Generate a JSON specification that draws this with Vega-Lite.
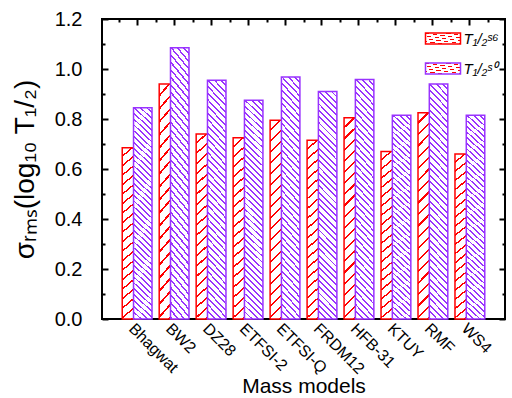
{
  "$schema": "https://vega.github.io/schema/vega-lite/v6.json",
  "width": 403,
  "height": 300,
  "autosize": {"type": "none"},
  "padding": {"left": 102, "top": 19, "right": 7, "bottom": 79},
  "background": "white",
  "config": {
    "view": {"stroke": "#000", "strokeWidth": 2},
    "axis": {"domain": false, "grid": false, "tickColor": "#000", "tickWidth": 2, "labelFont": "Liberation Sans", "titleFont": "Liberation Sans", "labelColor": "#000", "titleColor": "#000", "titleFontWeight": "normal", "labelOverlap": false, "labelLimit": 200}
  },
  "data": {"values": [
    {"model": "Bhagwat", "series": "S6", "value": 0.685},
    {"model": "Bhagwat", "series": "S0", "value": 0.845},
    {"model": "BW2", "series": "S6", "value": 0.94},
    {"model": "BW2", "series": "S0", "value": 1.085},
    {"model": "DZ28", "series": "S6", "value": 0.74},
    {"model": "DZ28", "series": "S0", "value": 0.955},
    {"model": "ETFSI-2", "series": "S6", "value": 0.725},
    {"model": "ETFSI-2", "series": "S0", "value": 0.875},
    {"model": "ETFSI-Q", "series": "S6", "value": 0.795},
    {"model": "ETFSI-Q", "series": "S0", "value": 0.968},
    {"model": "FRDM12", "series": "S6", "value": 0.715},
    {"model": "FRDM12", "series": "S0", "value": 0.91},
    {"model": "HFB-31", "series": "S6", "value": 0.805},
    {"model": "HFB-31", "series": "S0", "value": 0.958},
    {"model": "KTUY", "series": "S6", "value": 0.67},
    {"model": "KTUY", "series": "S0", "value": 0.815},
    {"model": "RMF", "series": "S6", "value": 0.825},
    {"model": "RMF", "series": "S0", "value": 0.94},
    {"model": "WS4", "series": "S6", "value": 0.66},
    {"model": "WS4", "series": "S0", "value": 0.815}
  ]},
  "layer": [
    {
      "transform": [{"filter": "datum.series === 'S6'"}],
      "mark": {"type": "bar", "width": {"band": 0.5}, "xOffset": -5.65, "strokeWidth": 1.5,
        "fill": {"gradient": "linear", "x1": 0, "y1": 0, "x2": 0.1, "y2": 1.1, "stops": [
          {"offset":0,"color":"#fff"},{"offset":0.04,"color":"#fff"},{"offset":0.04,"color":"#f00"},{"offset":0.05,"color":"#f00"},
          {"offset":0.05,"color":"#fff"},{"offset":0.09,"color":"#fff"},{"offset":0.09,"color":"#f00"},{"offset":0.1,"color":"#f00"},
          {"offset":0.1,"color":"#fff"},{"offset":0.14,"color":"#fff"},{"offset":0.14,"color":"#f00"},{"offset":0.15,"color":"#f00"},
          {"offset":0.15,"color":"#fff"},{"offset":0.19,"color":"#fff"},{"offset":0.19,"color":"#f00"},{"offset":0.2,"color":"#f00"},
          {"offset":0.2,"color":"#fff"},{"offset":0.24,"color":"#fff"},{"offset":0.24,"color":"#f00"},{"offset":0.25,"color":"#f00"},
          {"offset":0.25,"color":"#fff"},{"offset":0.29,"color":"#fff"},{"offset":0.29,"color":"#f00"},{"offset":0.3,"color":"#f00"},
          {"offset":0.3,"color":"#fff"},{"offset":0.34,"color":"#fff"},{"offset":0.34,"color":"#f00"},{"offset":0.35,"color":"#f00"},
          {"offset":0.35,"color":"#fff"},{"offset":0.39,"color":"#fff"},{"offset":0.39,"color":"#f00"},{"offset":0.4,"color":"#f00"},
          {"offset":0.4,"color":"#fff"},{"offset":0.44,"color":"#fff"},{"offset":0.44,"color":"#f00"},{"offset":0.45,"color":"#f00"},
          {"offset":0.45,"color":"#fff"},{"offset":0.49,"color":"#fff"},{"offset":0.49,"color":"#f00"},{"offset":0.5,"color":"#f00"},
          {"offset":0.5,"color":"#fff"},{"offset":0.54,"color":"#fff"},{"offset":0.54,"color":"#f00"},{"offset":0.55,"color":"#f00"},
          {"offset":0.55,"color":"#fff"},{"offset":0.59,"color":"#fff"},{"offset":0.59,"color":"#f00"},{"offset":0.6,"color":"#f00"},
          {"offset":0.6,"color":"#fff"},{"offset":0.64,"color":"#fff"},{"offset":0.64,"color":"#f00"},{"offset":0.65,"color":"#f00"},
          {"offset":0.65,"color":"#fff"},{"offset":0.69,"color":"#fff"},{"offset":0.69,"color":"#f00"},{"offset":0.7,"color":"#f00"},
          {"offset":0.7,"color":"#fff"},{"offset":0.74,"color":"#fff"},{"offset":0.74,"color":"#f00"},{"offset":0.75,"color":"#f00"},
          {"offset":0.75,"color":"#fff"},{"offset":0.79,"color":"#fff"},{"offset":0.79,"color":"#f00"},{"offset":0.8,"color":"#f00"},
          {"offset":0.8,"color":"#fff"},{"offset":0.84,"color":"#fff"},{"offset":0.84,"color":"#f00"},{"offset":0.85,"color":"#f00"},
          {"offset":0.85,"color":"#fff"},{"offset":0.89,"color":"#fff"},{"offset":0.89,"color":"#f00"},{"offset":0.9,"color":"#f00"},
          {"offset":0.9,"color":"#fff"},{"offset":0.94,"color":"#fff"},{"offset":0.94,"color":"#f00"},{"offset":0.95,"color":"#f00"},
          {"offset":0.95,"color":"#fff"},{"offset":0.99,"color":"#fff"},{"offset":0.99,"color":"#f00"},{"offset":1,"color":"#f00"}
        ]}
      },
      "encoding": {
        "x": {"field": "model", "type": "nominal",
          "sort": ["Bhagwat", "BW2", "DZ28", "ETFSI-2", "ETFSI-Q", "FRDM12", "HFB-31", "KTUY", "RMF", "WS4"],
          "scale": {"paddingInner": 0, "paddingOuter": 0.45},
          "axis": {"orient": "bottom", "title": "Mass models", "titleFontSize": 21, "titlePadding": -1, "labelAngle": 45, "labelFontSize": 16, "labelPadding": 7, "tickSize": -6, "bandPosition": 0.5}},
        "y": {"field": "value", "type": "quantitative", "stack": null,
          "scale": {"domain": [0, 1.2], "nice": false, "zero": true},
          "axis": {"orient": "left", "values": [0, 0.2, 0.4, 0.6, 0.8, 1.0, 1.2], "format": ".1f", "labelFontSize": 20, "tickSize": -6, "labelPadding": 26, "title": "σᵣₘₛ(log₁₀ T₁/₂)", "titleFontSize": 28, "titlePadding": 15}},
        "stroke": {"field": "series", "type": "nominal",
          "scale": {"domain": ["S6", "S0"], "range": ["#ff0000", "#9933ff"]},
          "legend": {"orient": "none", "legendX": 333.5, "legendY": 12, "title": null, "padding": 0,
            "symbolType": "M-3.5,-1.1H3.5V1.1H-3.5Z", "symbolSize": 100, "symbolStrokeWidth": 1.5,
            "labelFont": "Liberation Sans", "labelFontSize": 15, "labelFontStyle": "italic", "labelColor": "#000", "labelOffset": 13, "rowPadding": 13,
            "labelExpr": "datum.value === 'S6' ? 'T₁/₂ˢ⁶' : 'T₁/₂ˢ⁰'",
            "encode": {"symbols": {"update": {"fill": [
              {"test": "datum.value === 'S6'", "value": {"gradient": "linear", "x1": 0, "y1": 0, "x2": 1.19, "y2": 0.374, "stops": [
                {"offset":0,"color":"#fff"},{"offset":0.125,"color":"#fff"},{"offset":0.125,"color":"#f00"},{"offset":0.1667,"color":"#f00"},
                {"offset":0.1667,"color":"#fff"},{"offset":0.2917,"color":"#fff"},{"offset":0.2917,"color":"#f00"},{"offset":0.3333,"color":"#f00"},
                {"offset":0.3333,"color":"#fff"},{"offset":0.4583,"color":"#fff"},{"offset":0.4583,"color":"#f00"},{"offset":0.5,"color":"#f00"},
                {"offset":0.5,"color":"#fff"},{"offset":0.625,"color":"#fff"},{"offset":0.625,"color":"#f00"},{"offset":0.6667,"color":"#f00"},
                {"offset":0.6667,"color":"#fff"},{"offset":0.7917,"color":"#fff"},{"offset":0.7917,"color":"#f00"},{"offset":0.8333,"color":"#f00"},
                {"offset":0.8333,"color":"#fff"},{"offset":0.9583,"color":"#fff"},{"offset":0.9583,"color":"#f00"},{"offset":1,"color":"#f00"}
              ]}},
              {"value": {"gradient": "linear", "x1": 0, "y1": 1, "x2": 1.19, "y2": 0.626, "stops": [
                {"offset":0,"color":"#fff"},{"offset":0.07,"color":"#fff"},{"offset":0.07,"color":"#93f"},{"offset":0.1,"color":"#93f"},
                {"offset":0.1,"color":"#fff"},{"offset":0.17,"color":"#fff"},{"offset":0.17,"color":"#93f"},{"offset":0.2,"color":"#93f"},
                {"offset":0.2,"color":"#fff"},{"offset":0.27,"color":"#fff"},{"offset":0.27,"color":"#93f"},{"offset":0.3,"color":"#93f"},
                {"offset":0.3,"color":"#fff"},{"offset":0.37,"color":"#fff"},{"offset":0.37,"color":"#93f"},{"offset":0.4,"color":"#93f"},
                {"offset":0.4,"color":"#fff"},{"offset":0.47,"color":"#fff"},{"offset":0.47,"color":"#93f"},{"offset":0.5,"color":"#93f"},
                {"offset":0.5,"color":"#fff"},{"offset":0.57,"color":"#fff"},{"offset":0.57,"color":"#93f"},{"offset":0.6,"color":"#93f"},
                {"offset":0.6,"color":"#fff"},{"offset":0.67,"color":"#fff"},{"offset":0.67,"color":"#93f"},{"offset":0.7,"color":"#93f"},
                {"offset":0.7,"color":"#fff"},{"offset":0.77,"color":"#fff"},{"offset":0.77,"color":"#93f"},{"offset":0.8,"color":"#93f"},
                {"offset":0.8,"color":"#fff"},{"offset":0.87,"color":"#fff"},{"offset":0.87,"color":"#93f"},{"offset":0.9,"color":"#93f"},
                {"offset":0.9,"color":"#fff"},{"offset":0.97,"color":"#fff"},{"offset":0.97,"color":"#93f"},{"offset":1,"color":"#93f"}
              ]}}
            ]}}}
          }
        }
      }
    },
    {
      "transform": [{"filter": "datum.series === 'S0'"}],
      "mark": {"type": "bar", "width": {"band": 0.5}, "xOffset": 5.65, "strokeWidth": 1.5,
        "fill": {"gradient": "linear", "x1": 1, "y1": 0, "x2": 0.91, "y2": 1.1, "stops": [
          {"offset":0,"color":"#fff"},{"offset":0.0175,"color":"#fff"},{"offset":0.0175,"color":"#93f"},{"offset":0.025,"color":"#93f"},
          {"offset":0.025,"color":"#fff"},{"offset":0.0425,"color":"#fff"},{"offset":0.0425,"color":"#93f"},{"offset":0.05,"color":"#93f"},
          {"offset":0.05,"color":"#fff"},{"offset":0.0675,"color":"#fff"},{"offset":0.0675,"color":"#93f"},{"offset":0.075,"color":"#93f"},
          {"offset":0.075,"color":"#fff"},{"offset":0.0925,"color":"#fff"},{"offset":0.0925,"color":"#93f"},{"offset":0.1,"color":"#93f"},
          {"offset":0.1,"color":"#fff"},{"offset":0.1175,"color":"#fff"},{"offset":0.1175,"color":"#93f"},{"offset":0.125,"color":"#93f"},
          {"offset":0.125,"color":"#fff"},{"offset":0.1425,"color":"#fff"},{"offset":0.1425,"color":"#93f"},{"offset":0.15,"color":"#93f"},
          {"offset":0.15,"color":"#fff"},{"offset":0.1675,"color":"#fff"},{"offset":0.1675,"color":"#93f"},{"offset":0.175,"color":"#93f"},
          {"offset":0.175,"color":"#fff"},{"offset":0.1925,"color":"#fff"},{"offset":0.1925,"color":"#93f"},{"offset":0.2,"color":"#93f"},
          {"offset":0.2,"color":"#fff"},{"offset":0.2175,"color":"#fff"},{"offset":0.2175,"color":"#93f"},{"offset":0.225,"color":"#93f"},
          {"offset":0.225,"color":"#fff"},{"offset":0.2425,"color":"#fff"},{"offset":0.2425,"color":"#93f"},{"offset":0.25,"color":"#93f"},
          {"offset":0.25,"color":"#fff"},{"offset":0.2675,"color":"#fff"},{"offset":0.2675,"color":"#93f"},{"offset":0.275,"color":"#93f"},
          {"offset":0.275,"color":"#fff"},{"offset":0.2925,"color":"#fff"},{"offset":0.2925,"color":"#93f"},{"offset":0.3,"color":"#93f"},
          {"offset":0.3,"color":"#fff"},{"offset":0.3175,"color":"#fff"},{"offset":0.3175,"color":"#93f"},{"offset":0.325,"color":"#93f"},
          {"offset":0.325,"color":"#fff"},{"offset":0.3425,"color":"#fff"},{"offset":0.3425,"color":"#93f"},{"offset":0.35,"color":"#93f"},
          {"offset":0.35,"color":"#fff"},{"offset":0.3675,"color":"#fff"},{"offset":0.3675,"color":"#93f"},{"offset":0.375,"color":"#93f"},
          {"offset":0.375,"color":"#fff"},{"offset":0.3925,"color":"#fff"},{"offset":0.3925,"color":"#93f"},{"offset":0.4,"color":"#93f"},
          {"offset":0.4,"color":"#fff"},{"offset":0.4175,"color":"#fff"},{"offset":0.4175,"color":"#93f"},{"offset":0.425,"color":"#93f"},
          {"offset":0.425,"color":"#fff"},{"offset":0.4425,"color":"#fff"},{"offset":0.4425,"color":"#93f"},{"offset":0.45,"color":"#93f"},
          {"offset":0.45,"color":"#fff"},{"offset":0.4675,"color":"#fff"},{"offset":0.4675,"color":"#93f"},{"offset":0.475,"color":"#93f"},
          {"offset":0.475,"color":"#fff"},{"offset":0.4925,"color":"#fff"},{"offset":0.4925,"color":"#93f"},{"offset":0.5,"color":"#93f"},
          {"offset":0.5,"color":"#fff"},{"offset":0.5175,"color":"#fff"},{"offset":0.5175,"color":"#93f"},{"offset":0.525,"color":"#93f"},
          {"offset":0.525,"color":"#fff"},{"offset":0.5425,"color":"#fff"},{"offset":0.5425,"color":"#93f"},{"offset":0.55,"color":"#93f"},
          {"offset":0.55,"color":"#fff"},{"offset":0.5675,"color":"#fff"},{"offset":0.5675,"color":"#93f"},{"offset":0.575,"color":"#93f"},
          {"offset":0.575,"color":"#fff"},{"offset":0.5925,"color":"#fff"},{"offset":0.5925,"color":"#93f"},{"offset":0.6,"color":"#93f"},
          {"offset":0.6,"color":"#fff"},{"offset":0.6175,"color":"#fff"},{"offset":0.6175,"color":"#93f"},{"offset":0.625,"color":"#93f"},
          {"offset":0.625,"color":"#fff"},{"offset":0.6425,"color":"#fff"},{"offset":0.6425,"color":"#93f"},{"offset":0.65,"color":"#93f"},
          {"offset":0.65,"color":"#fff"},{"offset":0.6675,"color":"#fff"},{"offset":0.6675,"color":"#93f"},{"offset":0.675,"color":"#93f"},
          {"offset":0.675,"color":"#fff"},{"offset":0.6925,"color":"#fff"},{"offset":0.6925,"color":"#93f"},{"offset":0.7,"color":"#93f"},
          {"offset":0.7,"color":"#fff"},{"offset":0.7175,"color":"#fff"},{"offset":0.7175,"color":"#93f"},{"offset":0.725,"color":"#93f"},
          {"offset":0.725,"color":"#fff"},{"offset":0.7425,"color":"#fff"},{"offset":0.7425,"color":"#93f"},{"offset":0.75,"color":"#93f"},
          {"offset":0.75,"color":"#fff"},{"offset":0.7675,"color":"#fff"},{"offset":0.7675,"color":"#93f"},{"offset":0.775,"color":"#93f"},
          {"offset":0.775,"color":"#fff"},{"offset":0.7925,"color":"#fff"},{"offset":0.7925,"color":"#93f"},{"offset":0.8,"color":"#93f"},
          {"offset":0.8,"color":"#fff"},{"offset":0.8175,"color":"#fff"},{"offset":0.8175,"color":"#93f"},{"offset":0.825,"color":"#93f"},
          {"offset":0.825,"color":"#fff"},{"offset":0.8425,"color":"#fff"},{"offset":0.8425,"color":"#93f"},{"offset":0.85,"color":"#93f"},
          {"offset":0.85,"color":"#fff"},{"offset":0.8675,"color":"#fff"},{"offset":0.8675,"color":"#93f"},{"offset":0.875,"color":"#93f"},
          {"offset":0.875,"color":"#fff"},{"offset":0.8925,"color":"#fff"},{"offset":0.8925,"color":"#93f"},{"offset":0.9,"color":"#93f"},
          {"offset":0.9,"color":"#fff"},{"offset":0.9175,"color":"#fff"},{"offset":0.9175,"color":"#93f"},{"offset":0.925,"color":"#93f"},
          {"offset":0.925,"color":"#fff"},{"offset":0.9425,"color":"#fff"},{"offset":0.9425,"color":"#93f"},{"offset":0.95,"color":"#93f"},
          {"offset":0.95,"color":"#fff"},{"offset":0.9675,"color":"#fff"},{"offset":0.9675,"color":"#93f"},{"offset":0.975,"color":"#93f"},
          {"offset":0.975,"color":"#fff"},{"offset":0.9925,"color":"#fff"},{"offset":0.9925,"color":"#93f"},{"offset":1,"color":"#93f"}
        ]}
      },
      "encoding": {
        "x": {"field": "model", "type": "nominal",
          "sort": ["Bhagwat", "BW2", "DZ28", "ETFSI-2", "ETFSI-Q", "FRDM12", "HFB-31", "KTUY", "RMF", "WS4"],
          "scale": {"paddingInner": 0, "paddingOuter": 0.45},
          "axis": {"orient": "top", "title": null, "labels": false, "tickSize": -6, "bandPosition": 0.5}},
        "y": {"field": "value", "type": "quantitative", "stack": null,
          "scale": {"domain": [0, 1.2], "nice": false, "zero": true},
          "axis": {"orient": "right", "title": null, "labels": false, "values": [0, 0.2, 0.4, 0.6, 0.8, 1.0, 1.2], "tickSize": -6}},
        "stroke": {"field": "series", "type": "nominal",
          "scale": {"domain": ["S6", "S0"], "range": ["#ff0000", "#9933ff"]}}
      }
    },
    {
      "mark": {"type": "bar", "opacity": 0},
      "encoding": {
        "x": {"field": "model", "type": "nominal",
          "sort": ["Bhagwat", "BW2", "DZ28", "ETFSI-2", "ETFSI-Q", "FRDM12", "HFB-31", "KTUY", "RMF", "WS4"],
          "axis": {"orient": "top", "title": null, "labels": false, "tickSize": -3, "tickBand": "extent"}},
        "y": {"field": "value", "type": "quantitative", "stack": null,
          "axis": {"orient": "left", "title": null, "labels": false, "values": [0.1, 0.3, 0.5, 0.7, 0.9, 1.1], "tickSize": -3}}
      }
    },
    {
      "mark": {"type": "bar", "opacity": 0},
      "encoding": {
        "x": {"field": "model", "type": "nominal",
          "sort": ["Bhagwat", "BW2", "DZ28", "ETFSI-2", "ETFSI-Q", "FRDM12", "HFB-31", "KTUY", "RMF", "WS4"],
          "axis": null},
        "y": {"field": "value", "type": "quantitative", "stack": null,
          "axis": {"orient": "right", "title": null, "labels": false, "values": [0.1, 0.3, 0.5, 0.7, 0.9, 1.1], "tickSize": -3}}
      }
    }
  ],
  "resolve": {"axis": {"x": "independent", "y": "independent"}}
}
